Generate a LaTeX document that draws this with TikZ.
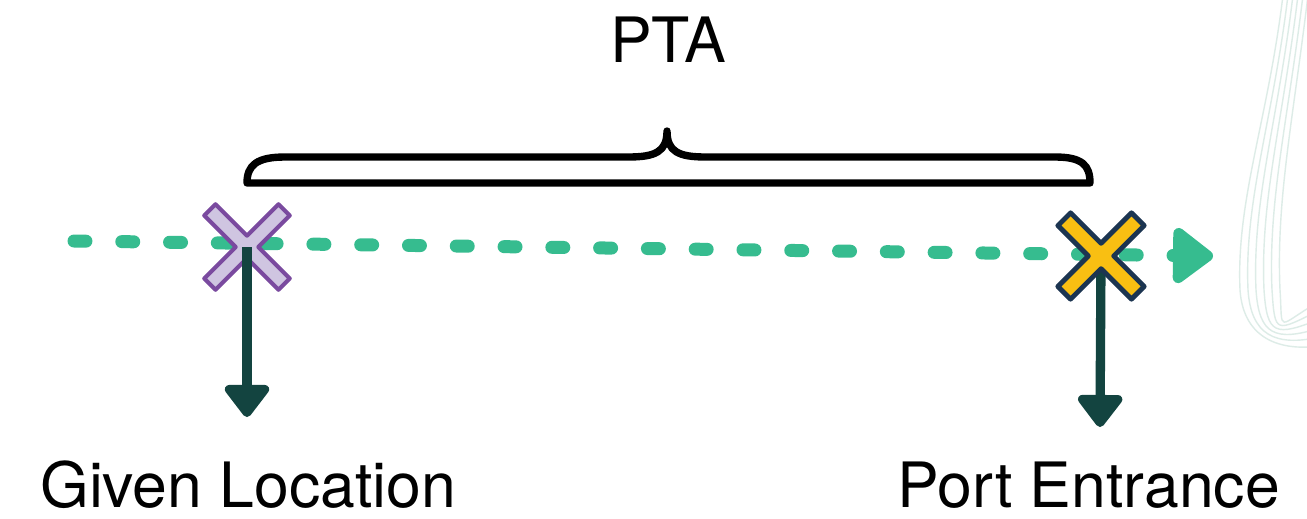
\documentclass[tikz,border=0pt]{standalone}
\usepackage{fontspec}
\setmainfont{TeX Gyre Heros}
\usetikzlibrary{arrows.meta}

\definecolor{flowgreen}{HTML}{36BC8F}
\definecolor{dropgreen}{HTML}{134440}
\definecolor{markpurple}{HTML}{7A4A9F}
\definecolor{markpurplefill}{HTML}{CFC5E1}
\definecolor{markyellow}{HTML}{F9BF12}
\definecolor{marknavy}{HTML}{1C3551}
\definecolor{contourline}{HTML}{DDECE7}

\tikzset{
  % one unit = one pixel of the 1307 x 518 canvas
  flow/.style={flowgreen, line width=7.4pt, line cap=round,
    dash pattern=on 6.8pt off 20.4pt,
    -{Triangle[round, length=25pt, width=36pt]}},
  drop/.style={dropgreen, line width=5.3pt,
    -{Triangle[round, length=20pt, width=29pt]}},
  brace/.style={black, line width=4.2pt, line join=round, line cap=round},
  contour/.style={contourline, line width=0.8pt},
  caption/.style={inner sep=0pt, font=\fontsize{35.6}{42}\selectfont},
  pics/crossmark/.style n args={5}{code={
    \filldraw[fill=#1, draw=#2, line width=#3, line join=round, rotate=45]
      (#4,#5) -- (#4,#4) -- (#5,#4) -- (#5,-#4) -- (#4,-#4) -- (#4,-#5)
      -- (-#4,-#5) -- (-#4,-#4) -- (-#5,-#4) -- (-#5,#4) -- (-#4,#4)
      -- (-#4,#5) -- cycle;
  }}
}

\begin{document}
\begin{tikzpicture}[x=0.02cm, y=-0.02cm]
\useasboundingbox (0,0) rectangle (1307,518);
\fill[white] (0,0) rectangle (1307,518);

% faint contour lines in the right margin
\begin{scope}
  \clip (0,0) rectangle (1307,518);
  \foreach \i in {0,...,5} {
    \draw[contour] (1283+5*\i,-5) .. controls (1268+5*\i,120) and (1236+8*\i,200) .. (1240+8*\i,290)
      .. controls (1243+8*\i,335) and (1275,352-5*\i) .. (1320,346-9*\i);
  }
\end{scope}

% brace spanning both locations
\draw[brace] (1090,183) -- (247,183)
  .. controls (247,165) and (257,157) .. (285,157) -- (628,157)
  .. controls (655,157) and (667,152) .. (667,131)
  .. controls (667,152) and (679,157) .. (706,157) -- (1055,157)
  .. controls (1082,157) and (1090,165) .. (1090,183) -- cycle;

% track
\coordinate (flowstart) at (74,241);
\coordinate (flowend) at (1213,256);
\draw[flow] (flowstart) -- (flowend);

% given location
\coordinate (given) at (247,247);
\coordinate (giventip) at (247,417);
\pic at (given) {crossmark={markpurplefill}{markpurple}{2.3pt}{8}{52.5}};
\draw[drop] (given) -- (giventip);

% port entrance
\coordinate (port) at (1101,256);
\coordinate (porttip) at (1100,427);
\draw[drop] (port) -- (porttip);
\pic at (port) {crossmark={markyellow}{marknavy}{2.8pt}{9}{52}};

% captions
\node[caption, anchor=base] (ptalabel) at (668,62) {PTA};
\node[caption, anchor=base west] (givenlabel) at (40,507) {Given Location};
\node[caption, anchor=base west] (portlabel) at (897,507) {Port Entrance};
\end{tikzpicture}
\end{document}
